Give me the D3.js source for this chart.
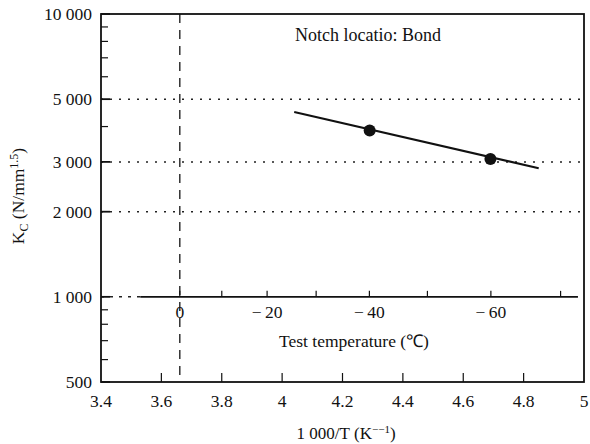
<!DOCTYPE html>
<html>
<head>
<meta charset="utf-8">
<script src="https://cdn.jsdelivr.net/npm/d3@7"></script>
<style>
  body { margin: 0; background: #fff; }
  text { font-family: "Liberation Serif", "Times New Roman", serif; fill: #111; }
</style>
</head>
<body>
<div id="chart"></div>
<script>
// Data
var fitLine = [[4.04, 4500], [4.85, 2850]];          // fitted line, 1000/T vs Kc
var points = [[4.29, 3870], [4.69, 3070]];           // measured Kc at -40 and -60 C
var yTicks = [500, 1000, 2000, 3000, 5000, 10000];
var yTickLabels = ["500", "1 000", "2 000", "3 000", "5 000", "10 000"];
var yMinor = [600, 700, 800, 900, 4000, 6000, 7000, 8000, 9000];
var yGrid = [2000, 3000, 5000];
var xTicks = [3.4, 3.6, 3.8, 4, 4.2, 4.4, 4.6, 4.8, 5];
var tempTicks = [0, -10, -20, -30, -40, -50, -60, -70];
var tempLabels = [0, -20, -40, -60];

var width = 590, height = 444;
var margin = { top: 14, right: 6, bottom: 62, left: 101 };

var svg = d3.select("#chart").append("svg")
    .attr("width", width)
    .attr("height", height);

var x = d3.scaleLinear().domain([3.4, 5]).range([margin.left, width - margin.right]);
var y = d3.scaleLog().domain([500, 10000]).range([height - margin.bottom, margin.top]);

// temperature in C -> 1000/T
function invT(c) { return 1000 / (c + 273.15); }

// dotted gridlines
svg.selectAll("line.grid")
  .data(yGrid)
  .enter().append("line")
    .attr("x1", x(3.4)).attr("x2", x(5))
    .attr("y1", d => y(d)).attr("y2", d => y(d))
    .attr("stroke", "#222")
    .attr("stroke-width", 1.5)
    .attr("stroke-dasharray", "2,7");

// 0 C dashed vertical
svg.append("line")
  .attr("x1", x(invT(0))).attr("x2", x(invT(0)))
  .attr("y1", y(10000)).attr("y2", y(500))
  .attr("stroke", "#333")
  .attr("stroke-width", 1.5)
  .attr("stroke-dasharray", "9,7");

// secondary temperature axis at Kc = 1000
svg.append("line")
  .attr("x1", x(3.4)).attr("x2", x(3.53))
  .attr("y1", y(1000)).attr("y2", y(1000))
  .attr("stroke", "#222").attr("stroke-width", 1.5)
  .attr("stroke-dasharray", "3,6");
svg.append("line")
  .attr("x1", x(3.53)).attr("x2", x(4.98))
  .attr("y1", y(1000)).attr("y2", y(1000))
  .attr("stroke", "#111").attr("stroke-width", 1.6);

svg.selectAll("line.ttick")
  .data(tempTicks)
  .enter().append("line")
    .attr("x1", d => x(invT(d))).attr("x2", d => x(invT(d)))
    .attr("y1", y(1000)).attr("y2", y(1000) - 6)
    .attr("stroke", "#111").attr("stroke-width", 1.2);

svg.selectAll("text.tlab")
  .data(tempLabels)
  .enter().append("text")
    .attr("x", d => x(invT(d)))
    .attr("y", y(1000) + 15)
    .attr("text-anchor", "middle")
    .attr("dominant-baseline", "central")
    .attr("font-size", 17.5)
    .text(d => d === 0 ? "0" : "\u2212\u2009" + Math.abs(d));

svg.append("text")
  .attr("x", 354).attr("y", 347)
  .attr("text-anchor", "middle")
  .attr("font-size", 17.5)
  .text("Test temperature (\u2103)");

// frame
svg.append("rect")
  .attr("x", x(3.4)).attr("y", y(10000))
  .attr("width", x(5) - x(3.4)).attr("height", y(500) - y(10000))
  .attr("fill", "none").attr("stroke", "#111").attr("stroke-width", 1.8);

// y ticks
svg.selectAll("line.ymaj")
  .data(yTicks)
  .enter().append("line")
    .attr("x1", x(3.4)).attr("x2", x(3.4) + 9)
    .attr("y1", d => y(d)).attr("y2", d => y(d))
    .attr("stroke", "#111").attr("stroke-width", 1.8);
svg.selectAll("line.ymin")
  .data(yMinor)
  .enter().append("line")
    .attr("x1", x(3.4)).attr("x2", x(3.4) + 7)
    .attr("y1", d => y(d)).attr("y2", d => y(d))
    .attr("stroke", "#111").attr("stroke-width", 1.2);

svg.selectAll("text.ylab")
  .data(yTicks)
  .enter().append("text")
    .attr("x", 92)
    .attr("y", d => y(d))
    .attr("text-anchor", "end")
    .attr("dominant-baseline", "central")
    .attr("font-size", 17.5)
    .text((d, i) => yTickLabels[i]);

// x ticks
svg.selectAll("line.xt")
  .data(xTicks.slice(1, -1))
  .enter().append("line")
    .attr("x1", d => x(d)).attr("x2", d => x(d))
    .attr("y1", y(500)).attr("y2", y(500) - 9)
    .attr("stroke", "#111").attr("stroke-width", 1.2);

svg.selectAll("text.xlab")
  .data(xTicks)
  .enter().append("text")
    .attr("x", d => x(d))
    .attr("y", y(500) + 19)
    .attr("text-anchor", "middle")
    .attr("dominant-baseline", "central")
    .attr("font-size", 17.5)
    .text(d => d3.format("")(d));

svg.append("text")
  .attr("x", 346).attr("y", 439)
  .attr("text-anchor", "middle")
  .attr("font-size", 17)
  .html("1 000/T\u00a0(K<tspan dy='-6' font-size='11'>\u2212\u22121</tspan><tspan dy='6'>)</tspan>");

// y title
svg.append("text")
  .attr("transform", "translate(24,196) rotate(-90)")
  .attr("text-anchor", "middle")
  .attr("font-size", 17.5)
  .html("K<tspan dy='4' font-size='12'>C</tspan><tspan dy='-4'> (N/mm</tspan><tspan dy='-6' font-size='12'>1.5</tspan><tspan dy='6'>)</tspan>");

// annotation
svg.append("text")
  .attr("x", 295).attr("y", 41)
  .attr("font-size", 18)
  .text("Notch locatio: Bond");

// fitted line and points
svg.append("path")
  .datum(fitLine)
  .attr("d", d3.line().x(d => x(d[0])).y(d => y(d[1])))
  .attr("fill", "none")
  .attr("stroke", "#111")
  .attr("stroke-width", 2);

svg.selectAll("circle")
  .data(points)
  .enter().append("circle")
    .attr("cx", d => x(d[0]))
    .attr("cy", d => y(d[1]))
    .attr("r", 6)
    .attr("fill", "#111");
</script>
</body>
</html>
